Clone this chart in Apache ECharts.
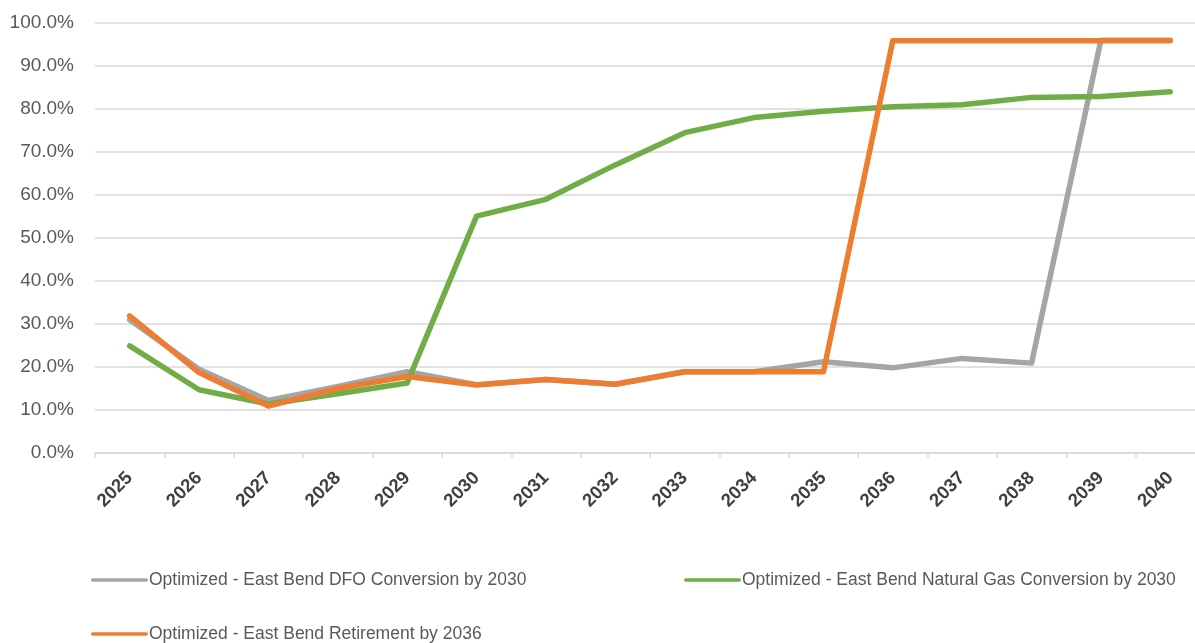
<!DOCTYPE html>
<html>
<head>
<meta charset="utf-8">
<script src="https://cdn.jsdelivr.net/npm/echarts@6/dist/echarts.min.js"></script>
<style>
  html, body { margin: 0; padding: 0; background: #ffffff; }
  #chart { width: 1195px; height: 643px; }
</style>
</head>
<body>
<div id="chart"></div>
<script>
// Years on the category axis
const years = ['2025','2026','2027','2028','2029','2030','2031','2032','2033','2034','2035','2036','2037','2038','2039','2040'];

// Series names
const nameDFO = 'Optimized - East Bend DFO Conversion by 2030';
const nameGas = 'Optimized - East Bend Natural Gas Conversion by 2030';
const nameRet = 'Optimized - East Bend Retirement by 2036';

// Values in percent
const dfoValues = [31, 19.5, 12.2, 15.5, 18.9, 15.9, 17.1, 16, 18.9, 18.9, 21.2, 19.8, 22, 20.9, 96, 96];
const gasValues = [24.9, 14.7, 11.4, 13.8, 16.3, 55.1, 59, 67, 74.5, 78, 79.5, 80.5, 81, 82.7, 82.9, 84];
const retValues = [31.9, 18.7, 10.9, 15, 17.8, 15.8, 17.1, 16, 18.9, 18.9, 18.9, 95.9, 95.9, 95.9, 95.9, 95.9];

// Y-axis range
const yMin = 0, yMax = 100, yStep = 10;

const FONT = '"Liberation Sans Narrow", "Liberation Sans", Arial, sans-serif';
const colDFO = '#a5a5a5', colGas = '#70ad47', colRet = '#ed7d31';

const lineIcon = 'path://M3,0 L97,0 A3,3 0 0 1 97,6 L3,6 A3,3 0 0 1 3,0 Z';

function legendAt(name, left, top) {
  return {
    show: true, data: [name], left: left, top: top, orient: 'horizontal',
    icon: lineIcon, itemWidth: 57, itemHeight: 6, itemGap: 0,
    textStyle: { fontFamily: FONT, fontSize: 17.5, color: '#595959', padding: [0, 0, 0, -4] },
    selectedMode: false
  };
}

function lineSeries(name, data, color, z) {
  return {
    name: name, type: 'line', data: data, z: z,
    symbol: 'none', smooth: false,
    lineStyle: { color: color, width: 5.5, cap: 'round', join: 'round' },
    itemStyle: { color: color },
    emphasis: { disabled: true }
  };
}

const chart = echarts.init(document.getElementById('chart'), null, { renderer: 'canvas' });
chart.setOption({
  backgroundColor: '#ffffff',
  animation: false,
  grid: { left: 95, right: -10, top: 23, height: 430, containLabel: false, outerBoundsMode: 'none' },
  legend: [
    legendAt(nameDFO, 86, 566),
    legendAt(nameGas, 679, 566),
    legendAt(nameRet, 86, 620)
  ],
  xAxis: {
    type: 'category', data: years, boundaryGap: true,
    axisLine: { show: true, lineStyle: { color: '#d9d9d9', width: 1.5 } },
    axisTick: { show: true, length: 5, lineStyle: { color: '#d9d9d9', width: 1.5 } },
    axisLabel: {
      rotate: 45, margin: 22, interval: 0,
      fontFamily: FONT, fontSize: 18.5, fontWeight: 'bold', color: '#404040'
    },
    splitLine: { show: false }
  },
  yAxis: {
    type: 'value', min: yMin, max: yMax, interval: yStep,
    axisLine: { show: false }, axisTick: { show: false },
    axisLabel: {
      margin: 21, fontFamily: FONT, fontSize: 19, color: '#595959',
      formatter: function (v) { return v.toFixed(1) + '%'; }
    },
    splitLine: { show: true, lineStyle: { color: '#d9d9d9', width: 1.5 } }
  },
  series: [
    lineSeries(nameDFO, dfoValues, colDFO, 2),
    lineSeries(nameGas, gasValues, colGas, 3),
    lineSeries(nameRet, retValues, colRet, 4)
  ]
});
</script>
</body>
</html>
